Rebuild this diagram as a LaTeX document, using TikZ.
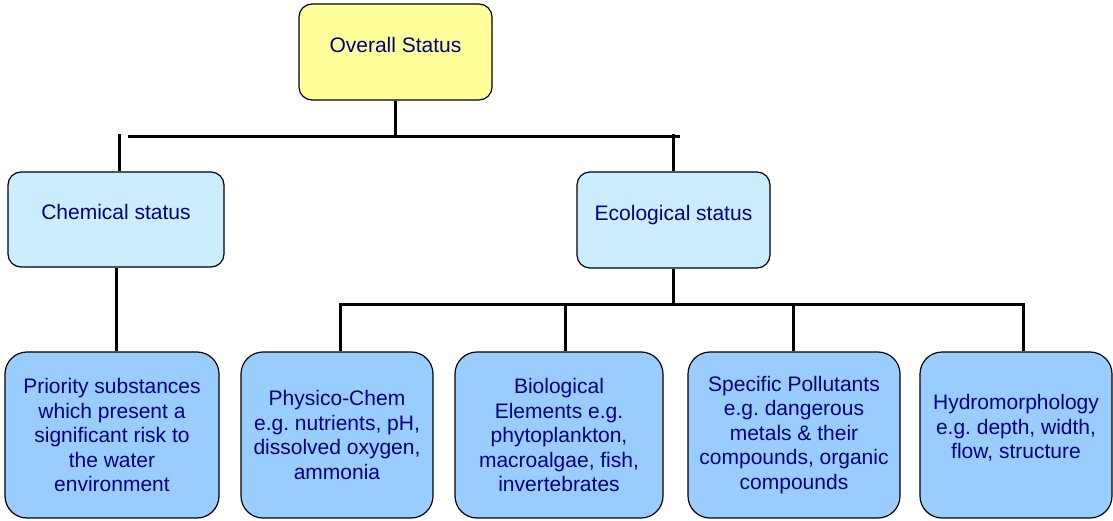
\documentclass[tikz,border=0pt]{standalone}
\usepackage{fontspec}
\setmainfont{Liberation Sans}
\frenchspacing

\definecolor{statusyellow}{RGB}{255,255,153}
\definecolor{statuslight}{RGB}{204,236,255}
\definecolor{statusblue}{RGB}{153,204,255}
\definecolor{statustext}{RGB}{0,0,128}

\tikzset{
  statusbox/.style={draw, line width=1.2pt, rounded corners=13pt, text=statustext,
    font=\fontsize{21}{24.5}\selectfont, text height=15pt, text depth=14pt,
    minimum height=96pt, inner sep=0pt},
  elementbox/.style={draw, line width=1.2pt, rounded corners=22pt, fill=statusblue,
    text=statustext, font=\fontsize{21}{24.5}\selectfont, align=center,
    minimum height=166pt, inner sep=0pt},
  link/.style={line width=3pt}
}

\begin{document}
\begin{tikzpicture}[x=1pt,y=1pt]
	\useasboundingbox (0,0) rectangle (1113,520);

	% top level
	\node[statusbox, fill=statusyellow, minimum width=193pt] (overall) at (395.5,468) {Overall Status};

	% second level
	\node[statusbox, fill=statuslight, minimum width=216pt, minimum height=95pt] (chem) at (116,300.5) {Chemical status};
	\node[statusbox, fill=statuslight, minimum width=193pt] (eco) at (673.5,300) {Ecological status};

	% elements
	\node[elementbox, minimum width=214pt] (prio) at (112,85) {Priority substances\\ which present a\\ significant risk to\\ the water\\ environment};
	\node[elementbox, minimum width=192pt] (phys) at (337,85) {Physico-Chem\\ e.g. nutrients, pH,\\ dissolved oxygen,\\ ammonia};
	\node[elementbox, minimum width=208pt] (bio) at (559,85) {Biological\\ Elements e.g.\\ phytoplankton,\\ macroalgae, fish,\\ invertebrates};
	\node[elementbox, minimum width=212pt] (spec) at (794,85) {Specific Pollutants\\ e.g. dangerous\\ metals \& their\\ compounds, organic\\ compounds};
	\node[elementbox, minimum width=192pt] (hydro) at (1016,85) {Hydromorphology\\ e.g. depth, width,\\ flow, structure\\[-15pt] \strut};

	% connectors
	\coordinate (barL) at (128,383.5);
	\coordinate (barR) at (680,383.5);
	\coordinate (chemup) at ([xshift=3pt]chem.north);
	\coordinate (ecobar) at (0,216);
	\coordinate (physup) at ([xshift=3pt]phys.north);
	\coordinate (bioup) at ([xshift=6pt]bio.north);
	\coordinate (specup) at ([xshift=-1pt]spec.north);
	\coordinate (hydroup) at ([xshift=7pt]hydro.north);
	\draw[link] (overall.south) -- (overall.south |- barL);
	\draw[link] (barL) -- (barR);
	\draw[link] (chemup) -- ([yshift=2.5pt]chemup |- barL);
	\draw[link] (eco.north) -- ([yshift=2.5pt]eco.north |- barR);
	\draw[link] (chem.south) -- (chem.south |- prio.north);
	\draw[link] (eco.south) -- (eco.south |- ecobar);
	\draw[link] (physup) |- (ecobar -| hydroup) -- (hydroup);
	\draw[link] (bioup) -- (bioup |- ecobar);
	\draw[link] (specup) -- (specup |- ecobar);
\end{tikzpicture}
\end{document}
